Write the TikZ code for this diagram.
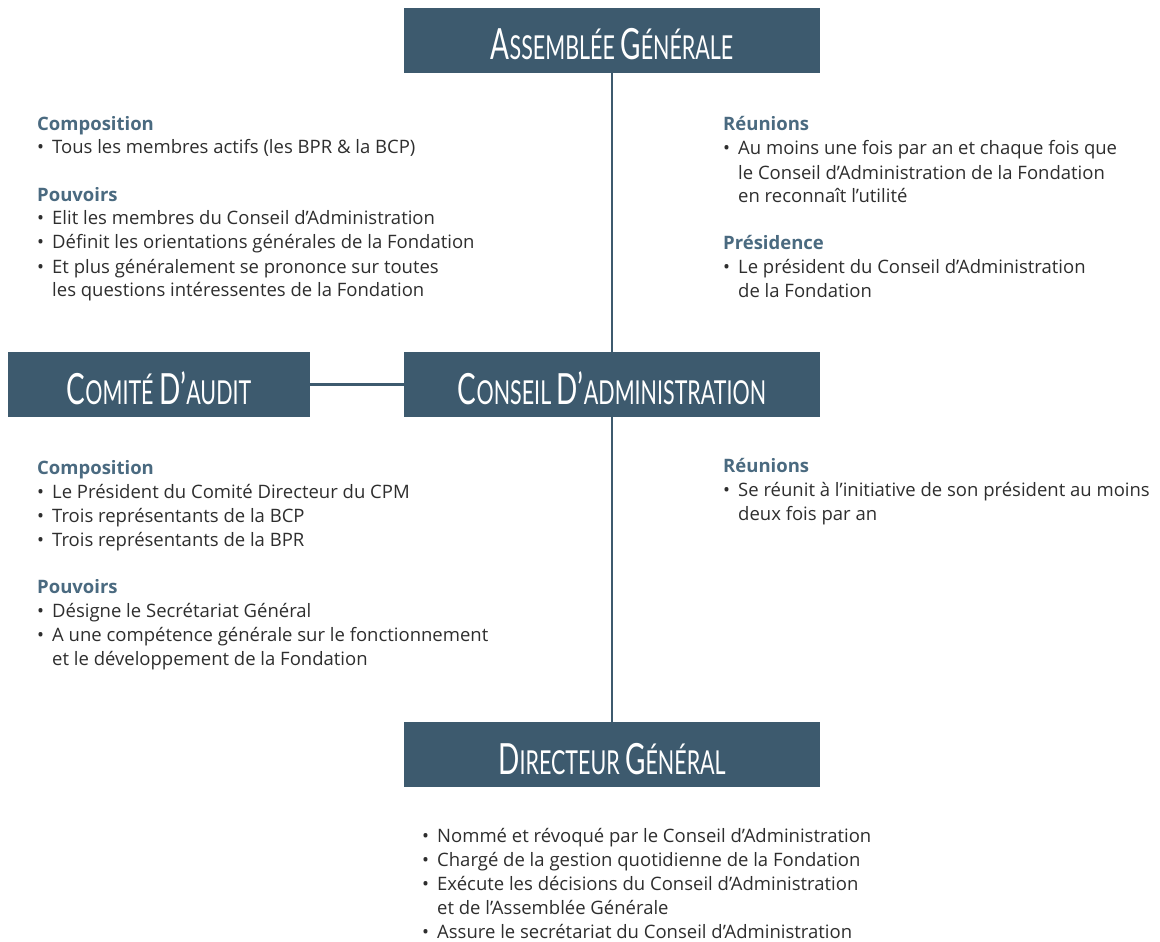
\documentclass[tikz,border=0pt]{standalone}
\usepackage{fontspec}
\setmainfont{Open Sans}
\newfontfamily\titlefont[FakeStretch=0.65]{Lato}
\definecolor{boxblue}{HTML}{3D5A6E}
\definecolor{headblue}{HTML}{4A6A80}
\definecolor{bodygray}{HTML}{2E2E2E}
\newcommand\tsc[2]{{\fontsize{43}{43}\selectfont #1}{\fontsize{33}{33}\selectfont #2}}
\newcommand\blk[1]{\vtop{\hsize=520pt\parindent=0pt\baselineskip=24pt\lineskiplimit=-100pt\lineskip=0pt\raggedright #1}}
\newcommand\hd[1]{\leavevmode{\bfseries\color{headblue}#1}\par}
\newcommand\bul[1]{\leavevmode\makebox[15pt][l]{\textbullet}#1\par}
\newcommand\cont[1]{\leavevmode\hspace*{15pt}#1\par}
\newcommand\gap{\vskip 23pt}
\tikzset{
  orgbox/.style={fill=boxblue, text=white, minimum height=65pt, inner sep=0pt,
    text height=39pt, text depth=0pt, font=\titlefont\fontsize{33}{33}\selectfont},
  link/.style={draw=boxblue, line width=2.5pt},
  txt/.style={anchor=base west, inner sep=0pt, text=bodygray, font=\fontsize{18.5}{24}\selectfont}
}
\begin{document}
\begin{tikzpicture}[x=1pt,y=-1pt]
\useasboundingbox (0,0) rectangle (1160,942);
\fill[white] (0,0) rectangle (1160,942);
% boxes
\node[orgbox, minimum width=416pt] (ag) at (612,40.5) {\tsc{A}{SSEMBLÉE} \tsc{G}{ÉNÉRALE}};
\node[orgbox, minimum width=416pt] (ca) at (612,384.5) {\tsc{C}{ONSEIL} \tsc{D’}{ADMINISTRATION}};
\node[orgbox, minimum width=302pt] (cd) at (159,384.5) {\tsc{C}{OMITÉ} \tsc{D’}{AUDIT}};
\node[orgbox, minimum width=416pt] (dg) at (612,754.5) {\tsc{D}{IRECTEUR} \tsc{G}{ÉNÉRAL}};
% connectors
\draw[link] (ag.south) -- (ca.north);
\draw[link] (ca.south) -- (dg.north);
\draw[link] (cd.east) -- (ca.west);
% text blocks
\node[txt] (t1) at (37,130) {\blk{\hd{Composition}
\bul{Tous les membres actifs (les BPR \& la BCP)}\gap
\hd{Pouvoirs}
\bul{Elit les membres du Conseil d’Administration}
\bul{Définit les orientations générales de la Fondation}
\bul{Et plus généralement se prononce sur toutes}
\cont{les questions intéressentes de la Fondation}}};
\node[txt] (t2) at (723,131) {\blk{\hd{Réunions}
\bul{Au moins une fois par an et chaque fois que}
\cont{le Conseil d’Administration de la Fondation}
\cont{en reconnaît l’utilité}\gap
\hd{Présidence}
\bul{Le président du Conseil d’Administration}
\cont{de la Fondation}}};
\node[txt] (t3) at (37,474) {\blk{\hd{Composition}
\bul{Le Président du Comité Directeur du CPM}
\bul{Trois représentants de la BCP}
\bul{Trois représentants de la BPR}\gap
\hd{Pouvoirs}
\bul{Désigne le Secrétariat Général}
\bul{A une compétence générale sur le fonctionnement}
\cont{et le développement de la Fondation}}};
\node[txt] (t4) at (723,472) {\blk{\hd{Réunions}
\bul{Se réunit à l’initiative de son président au moins}
\cont{deux fois par an}}};
\node[txt] (t5) at (422,842) {\blk{\bul{Nommé et révoqué par le Conseil d’Administration}
\bul{Chargé de la gestion quotidienne de la Fondation}
\bul{Exécute les décisions du Conseil d’Administration}
\cont{et de l’Assemblée Générale}
\bul{Assure le secrétariat du Conseil d’Administration}}};
\end{tikzpicture}
\end{document}
